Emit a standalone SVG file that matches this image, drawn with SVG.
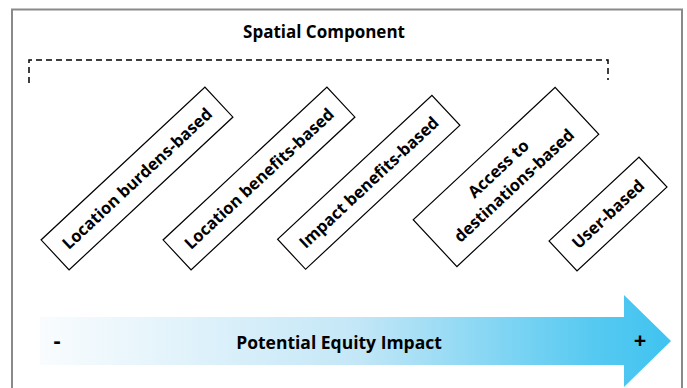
<svg xmlns="http://www.w3.org/2000/svg" width="687" height="388" viewBox="0 0 687 388">
  <defs>
    <linearGradient id="arrowFill" gradientUnits="userSpaceOnUse" x1="40" y1="0" x2="672" y2="0">
      <stop offset="0" stop-color="#f9fcfe"/>
      <stop offset="0.5" stop-color="#c4e7f7"/>
      <stop offset="0.88" stop-color="#55c9f1"/>
      <stop offset="1" stop-color="#3fc3f0"/>
    </linearGradient>
    <style>
      .frame { fill: none; stroke: #8a8a8a; stroke-width: 2; }
      .bracket { fill: none; stroke: #000; stroke-width: 1.5; stroke-dasharray: 6 4; }
      .box { fill: #fff; stroke: #000; stroke-width: 1.2; }
      .lbl { font-family: "Open Sans", Lato, "Liberation Sans", sans-serif; font-weight: bold; fill: #000; }
      .node .lbl { font-size: 16.5px; text-anchor: middle; }
      .title { font-size: 17px; text-anchor: middle; }
      .axis { font-size: 17.5px; text-anchor: middle; }
      .sign { font-size: 22px; text-anchor: middle; }
    </style>
  </defs>

  <!-- outer frame (open at the bottom) -->
  <path class="frame" d="M12,390 V9.5 H682 V390"/>

  <!-- heading and dashed bracket -->
  <text class="lbl title" x="324" y="37.5">Spatial Component</text>
  <g id="connectors">
    <path class="bracket" d="M29,83 V60 H608 V80"/>
  </g>

  <!-- category boxes, tilted -->
  <g id="location-burdens" class="node" transform="translate(137,178.5) rotate(-43)">
    <rect class="box" x="-112" y="-20.5" width="224" height="41"/>
    <text class="lbl" x="0" y="6">Location burdens-based</text>
  </g>
  <g id="location-benefits" class="node" transform="translate(259,178.5) rotate(-43)">
    <rect class="box" x="-112" y="-20.5" width="224" height="41"/>
    <text class="lbl" x="0" y="6">Location benefits-based</text>
  </g>
  <g id="impact-benefits" class="node" transform="translate(368.75,182.3) rotate(-43)">
    <rect class="box" x="-105.5" y="-20.5" width="211" height="41"/>
    <text class="lbl" x="0" y="6">Impact benefits-based</text>
  </g>
  <g id="access-destinations" class="node" transform="translate(506,177) rotate(-43)">
    <rect class="box" x="-97" y="-32" width="194" height="64"/>
    <text class="lbl" x="0" y="-5.5">Access to</text>
    <text class="lbl" x="0" y="17.5">destinations-based</text>
  </g>
  <g id="user-based" class="node" transform="translate(608,214) rotate(-43)">
    <rect class="box" x="-61.5" y="-20.5" width="123" height="41"/>
    <text class="lbl" x="0" y="6">User-based</text>
  </g>

  <!-- equity impact arrow -->
  <g id="equity-arrow">
    <path d="M40,317 H624 V295 L671,341 L624,387 V365 H40 Z" fill="url(#arrowFill)"/>
    <text class="lbl sign" x="57" y="348">-</text>
    <text class="lbl axis" x="339" y="349">Potential Equity Impact</text>
    <text class="lbl sign" x="640" y="348">+</text>
  </g>
</svg>
